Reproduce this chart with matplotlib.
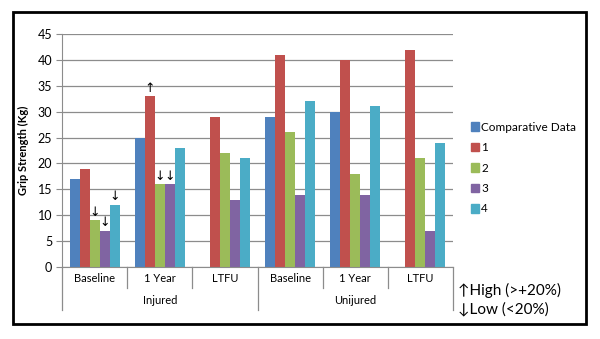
import matplotlib
matplotlib.use("Agg")
import matplotlib.pyplot as plt
from matplotlib.patches import Rectangle, Patch
import numpy as np

plt.rcParams['font.family'] = ['Lato', 'DejaVu Sans']

periods = ['Baseline', '1 Year', 'LTFU', 'Baseline', '1 Year', 'LTFU']
groups = ['Injured', 'Unijured']
series = ['Comparative Data', '1', '2', '3', '4']
comparative = [17, 25, np.nan, 29, 30, np.nan]
s1 = [19, 33, 29, 41, 40, 42]
s2 = [9, 16, 22, 26, 18, 21]
s3 = [7, 16, 13, 14, 14, 7]
s4 = [12, 23, 21, 32, 31, 24]
values = [comparative, s1, s2, s3, s4]
colors = ['#4F81BD', '#C0504D', '#9BBB59', '#8064A2', '#4BACC6']

# arrows: (period index, series index, symbol)
marks = [(0, 2, '↓'), (0, 3, '↓'), (0, 4, '↓'),
         (1, 1, '↑'), (1, 2, '↓'), (1, 3, '↓')]

W, H = 600, 339
fig = plt.figure(figsize=(W / 100, H / 100), dpi=100)
fig.patches.append(Rectangle((13 / W, 1 - 324 / H), 573 / W, 312 / H,
                             transform=fig.transFigure, fill=False,
                             edgecolor='black', linewidth=2))

x0, x1, y0, y1 = 62, 453, 267, 34
ax = fig.add_axes([x0 / W, 1 - y0 / H, (x1 - x0) / W, (y0 - y1) / H])

n = len(periods)
bw = 1 / 6.5
centers = np.arange(n) + 0.5
for k, (vals, c) in enumerate(zip(values, colors)):
    ax.bar(centers + (k - 2) * bw, vals, width=bw, color=c, label=series[k])

for gi, si, sym in marks:
    ax.text(centers[gi] + (si - 2) * bw, values[si][gi] + 0.3, sym,
            ha='center', va='bottom', fontsize=9, family=['DejaVu Sans'])

ax.set_xlim(0, n)
ax.set_ylim(0, 45)
ax.set_yticks(range(0, 46, 5))
ax.set_xticks([])
ax.yaxis.grid(True, color='#8c8c8c', linewidth=0.9)
ax.set_axisbelow(True)
for s in ['top', 'right']:
    ax.spines[s].set_visible(False)
ax.spines['left'].set_color('#8c8c8c')
ax.spines['bottom'].set_color('#8c8c8c')
ax.tick_params(axis='y', length=4, color='#8c8c8c', labelsize=9, pad=3)
ax.set_ylabel('Grip Strength (Kg)', fontsize=8, fontweight='bold', labelpad=6)

# category axis labels and separators
trans = ax.get_xaxis_transform()
ph = (y0 - y1)
def yax(px):
    return -(px - y0) / ph

for i in range(n + 1):
    low = 310 if i in (0, 3, 6) else 288
    ax.plot([i, i], [0, yax(low)], transform=trans, color='#8c8c8c',
            linewidth=0.9, clip_on=False)
for i, p in enumerate(periods):
    ax.text(centers[i], yax(278), p, transform=trans, ha='center',
            va='center', fontsize=8)
for j, g in enumerate(groups):
    ax.text(1.5 + 3 * j, yax(301), g, transform=trans, ha='center',
            va='center', fontsize=8)

handles = [Patch(color=c) for c in colors]
fig.legend(handles, series, loc='upper left',
           bbox_to_anchor=(466 / W, 1 - 117 / H), frameon=False,
           fontsize=8.5, handlelength=0.7, handleheight=0.7,
           handletextpad=0.2, labelspacing=0.8, borderaxespad=0)

fig.text(458 / W, 1 - 290 / H, '↑High (>+20%)', fontsize=11, va='center')
fig.text(458 / W, 1 - 309 / H, '↓Low (<20%)', fontsize=11, va='center')

fig.savefig('out.png', dpi=100)
